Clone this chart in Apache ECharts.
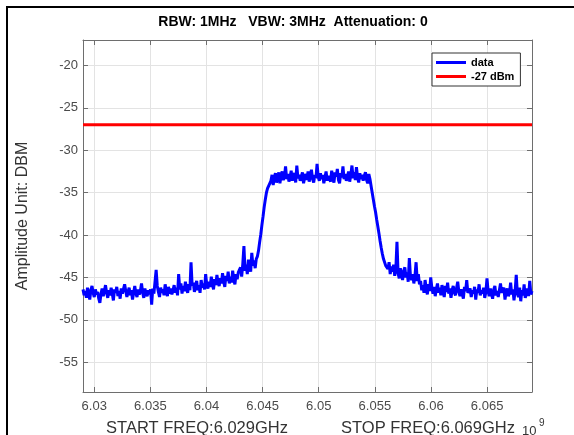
<!DOCTYPE html>
<html><head><meta charset="utf-8">
<script src="https://cdn.jsdelivr.net/npm/echarts@6/dist/echarts.min.js"></script>
<style>html,body{margin:0;padding:0;background:#fff}#c{width:574px;height:435px}</style>
</head><body><div id="c"></div>
<script>
// ---- data ----
const startFreq = 6.029;   // GHz (x10^9 Hz)
const stopFreq = 6.069;
const xTicks = [6.03, 6.035, 6.04, 6.045, 6.05, 6.055, 6.06, 6.065];
const yTicks = [-55, -50, -45, -40, -35, -30, -25, -20];
const refLevel = -27;
const titleText = 'RBW: 1MHz   VBW: 3MHz  Attenuation: 0';
const yName = 'Amplitude Unit: DBM';
const startLabel = 'START FREQ:6.029GHz';
const stopLabel = 'STOP FREQ:6.069GHz';
const legendNames = ['data', '-27 dBm'];

const noiseLeft = [-46.4,-47.1,-46.6,-47.4,-46.2,-46.9,-47.6,-46.5,-46.0,-46.8,-47.3,-46.4,-47.0,-46.7,-47.5,-48.0,-46.9,-46.3,-47.2,-46.6,
  -45.9,-46.8,-47.4,-46.5,-47.1,-46.2,-46.9,-47.7,-46.4,-46.8,-46.1,-47.2,-46.6,-47.5,-46.3,-46.9,-47.0,-45.8,-46.6,-47.3,
  -46.7,-46.2,-47.1,-46.5,-47.6,-46.8,-46.0,-46.9,-47.3,-46.4,-47.0,-46.6,-45.7,-46.8,-47.4,-46.3,-46.9,-47.2,-46.5,-47.0,
  -46.4];
const slopeLeft = [-48.2,-46.3,-46.9,-47.0,-44.1,-46.0,-46.7,-47.3,-46.2,-46.8,
  -46.4,-47.1,-45.8,-46.6,-47.2,-46.1,-46.9,-46.3,-47.0,-46.5,
  -45.9,-46.8,-46.2,-47.1,-44.6,-46.4,-45.7,-46.9,-46.0,-46.6,
  -45.5,-46.3,-46.8,-45.8,-46.5,-43.2,-46.0,-45.6,-46.7,-46.1,
  -45.4,-46.5,-45.9,-46.8,-45.3,-46.2,-45.7,-46.4,-44.6,-45.9,
  -46.3,-45.5,-46.1,-44.9,-45.8,-46.4,-45.2,-45.9,-44.7,-45.6,
  -46.0,-45.1,-45.7,-44.5,-45.5,-46.1,-44.8,-45.4,-44.3,-45.7,
  -44.9,-45.6,-44.2,-45.3,-45.8,-44.6,-45.2,-44.4];
const shoulderLeft = [-44.5,-43.8,-44.9,-43.4,-41.3,-44.2,-43.5,-44.6,-42.9,-43.8,-44.3,-42.1,-43.6,-43.0,-43.9,-42.8];
const riseEdge = [-42.5,-41.8,-40.8,-39.9,-38.8,-37.8,-36.7,-35.8,-35.0,-34.5,-34.2,-33.9];
const plateau = [-33.6,-32.9,-34.1,-33.2,-32.7,-33.8,-33.3,-32.6,-33.9,-33.0,
  -32.5,-33.5,-33.1,-31.9,-33.4,-32.8,-33.7,-33.2,-32.4,-33.6,
  -33.0,-32.7,-33.8,-31.8,-33.3,-32.9,-33.6,-33.1,-32.6,-33.9,
  -33.2,-32.8,-33.5,-32.5,-33.7,-33.0,-32.3,-33.4,-33.8,-32.9,
  -33.3,-31.6,-33.1,-33.6,-32.7,-33.4,-32.9,-33.9,-33.2,-32.5,
  -33.6,-33.0,-32.8,-33.7,-32.4,-33.3,-33.8,-32.6,-33.1,-32.2,
  -33.5,-33.9,-32.7,-33.2,-31.9,-33.4,-32.8,-33.6,-33.1,-32.5,
  -33.7,-32.9,-31.8,-33.3,-32.6,-33.5,-32.0,-33.2,-33.8,-32.7,
  -33.4,-32.9,-33.6,-33.0,-32.6,-33.5,-33.9,-32.8];
const fallEdge = [-33.4,-34.2,-35.0,-35.8,-36.6,-37.3,-38.2,-39.0,-39.8,-40.7,-41.5,-42.2,-42.8,-43.0,-43.6,-43.4];
const shoulderRight = [-44.0,-43.2,-44.6,-43.7,-44.3,-43.5,-44.8,-44.0,-40.8,-44.5,
  -45.1,-43.9,-44.7,-45.3,-44.2,-43.8,-45.0,-44.4,-45.5,-42.7,
  -44.9,-45.3,-44.6,-45.7,-44.8,-43.2,-45.4,-44.6,-45.8];
const noiseRight = [-45.4,-46.5,-45.9,-46.8,-45.3,-46.3,-47.0,-45.8,-46.6,-45.0,
  -46.2,-46.9,-46.1,-47.2,-46.4,-45.7,-46.8,-46.2,-47.1,-45.9,
  -46.6,-47.3,-46.0,-46.7,-45.6,-46.9,-46.3,-47.4,-46.5,-46.0,
  -46.8,-47.1,-46.2,-45.5,-46.7,-47.2,-46.4,-46.9,-47.5,-46.1,
  -46.6,-45.3,-46.8,-47.0,-46.3,-47.3,-46.5,-46.9,-46.1,-47.6,
  -46.4,-46.8,-45.8,-47.1,-46.5,-46.9,-46.2,-47.4,-46.7,-45.1,
  -46.6,-47.2,-46.3,-46.9,-47.5,-46.4,-46.0,-47.1,-46.6,-47.3,
  -46.5,-45.7,-46.8,-47.0,-46.2,-47.6,-46.7,-46.3,-47.2,-46.8,
  -45.6,-47.0,-46.4,-47.7,-46.6,-44.7,-46.9,-47.3,-46.2,-47.8,
  -46.5,-47.1,-45.8,-47.4,-46.9,-46.3,-47.2,-45.4,-47.0,-46.6];

const trace = [].concat(noiseLeft, slopeLeft, shoulderLeft, riseEdge, plateau, fallEdge, shoulderRight, noiseRight);
const step = (stopFreq - startFreq) / (trace.length - 1);
const traceData = trace.map((v, i) => [startFreq + i * step, v]);
const refData = [[startFreq, refLevel], [stopFreq, refLevel]];

// ---- chart ----
const chart = echarts.init(document.getElementById('c'), null, {renderer: 'canvas'});
const FONT = 'Liberation Sans, Arial, Helvetica, sans-serif';
const axisCol = '#6e6e6e';
const labelCol = '#4a4a4a';
const G = {left: 83, top: 40, right: 42, bottom: 43};

function xAx(pos, labels) {
  return {
    type: 'value', position: pos, min: startFreq, max: stopFreq,
    axisLine: {show: true, onZero: false, lineStyle: {color: axisCol, width: 1}},
    axisTick: {show: true, inside: true, length: 5, customValues: xTicks, lineStyle: {color: axisCol}},
    axisLabel: {show: labels, customValues: xTicks, color: labelCol, fontSize: 13, fontFamily: FONT, margin: 8,
      formatter: v => String(+(+v).toFixed(3))},
    splitLine: {show: labels, lineStyle: {color: '#e3e3e3', width: 1}}
  };
}
function yAx(pos, labels) {
  return {
    type: 'value', position: pos, min: -58.5, max: -17,
    axisLine: {show: true, onZero: false, lineStyle: {color: axisCol, width: 1}},
    axisTick: {show: true, inside: true, length: 5, customValues: yTicks, lineStyle: {color: axisCol}},
    axisLabel: {show: labels, customValues: yTicks, color: labelCol, fontSize: 13, fontFamily: FONT, margin: 5},
    splitLine: {show: labels, lineStyle: {color: '#e3e3e3', width: 1}},
    name: labels ? yName : '', nameLocation: 'middle', nameGap: 52, nameRotate: 90,
    nameTextStyle: {color: '#333', fontSize: 16, fontFamily: FONT}
  };
}

chart.setOption({
  animation: false,
  backgroundColor: '#fff',
  grid: G,
  xAxis: [xAx('bottom', true), xAx('top', false)],
  yAxis: [yAx('left', true), yAx('right', false)],
  legend: {
    orient: 'vertical', left: 432, top: 53, padding: [4, 6, 4, 4], itemGap: 3,
    icon: 'rect', itemWidth: 30, itemHeight: 3, backgroundColor: '#fff', borderColor: '#333', borderWidth: 1,
    borderRadius: 0, data: legendNames,
    textStyle: {fontSize: 11, fontWeight: 'bold', color: '#000', fontFamily: FONT}
  },
  series: [
    {name: legendNames[0], type: 'line', data: traceData, symbol: 'none', showSymbol: false,
      lineStyle: {color: '#0000ff', width: 3}, itemStyle: {color: '#0000ff'}, z: 3},
    {name: legendNames[1], type: 'line', data: refData, symbol: 'none', showSymbol: false,
      lineStyle: {color: '#ff0000', width: 3}, itemStyle: {color: '#ff0000'}, z: 3}
  ],
  graphic: [
    {type: 'rect', shape: {x: 6, y: 6, width: 2, height: 429}, style: {fill: '#000'}, silent: true},
    {type: 'rect', shape: {x: 6, y: 6, width: 568, height: 2}, style: {fill: '#000'}, silent: true},
    {type: 'text', x: 293, y: 22, style: {text: titleText, fill: '#000', font: 'bold 14px ' + FONT, textAlign: 'center', textVerticalAlign: 'middle'}},
    {type: 'text', x: 197, y: 428, style: {text: startLabel, fill: '#333', font: '16.5px ' + FONT, textAlign: 'center', textVerticalAlign: 'middle'}},
    {type: 'text', x: 428, y: 428, style: {text: stopLabel, fill: '#333', font: '16.5px ' + FONT, textAlign: 'center', textVerticalAlign: 'middle'}},
    {type: 'text', x: 522, y: 431, style: {text: '10', fill: '#333', font: '13px ' + FONT, textAlign: 'left', textVerticalAlign: 'middle'}},
    {type: 'text', x: 539, y: 423, style: {text: '9', fill: '#333', font: '10px ' + FONT, textAlign: 'left', textVerticalAlign: 'middle'}}
  ]
});
</script>
</body></html>
